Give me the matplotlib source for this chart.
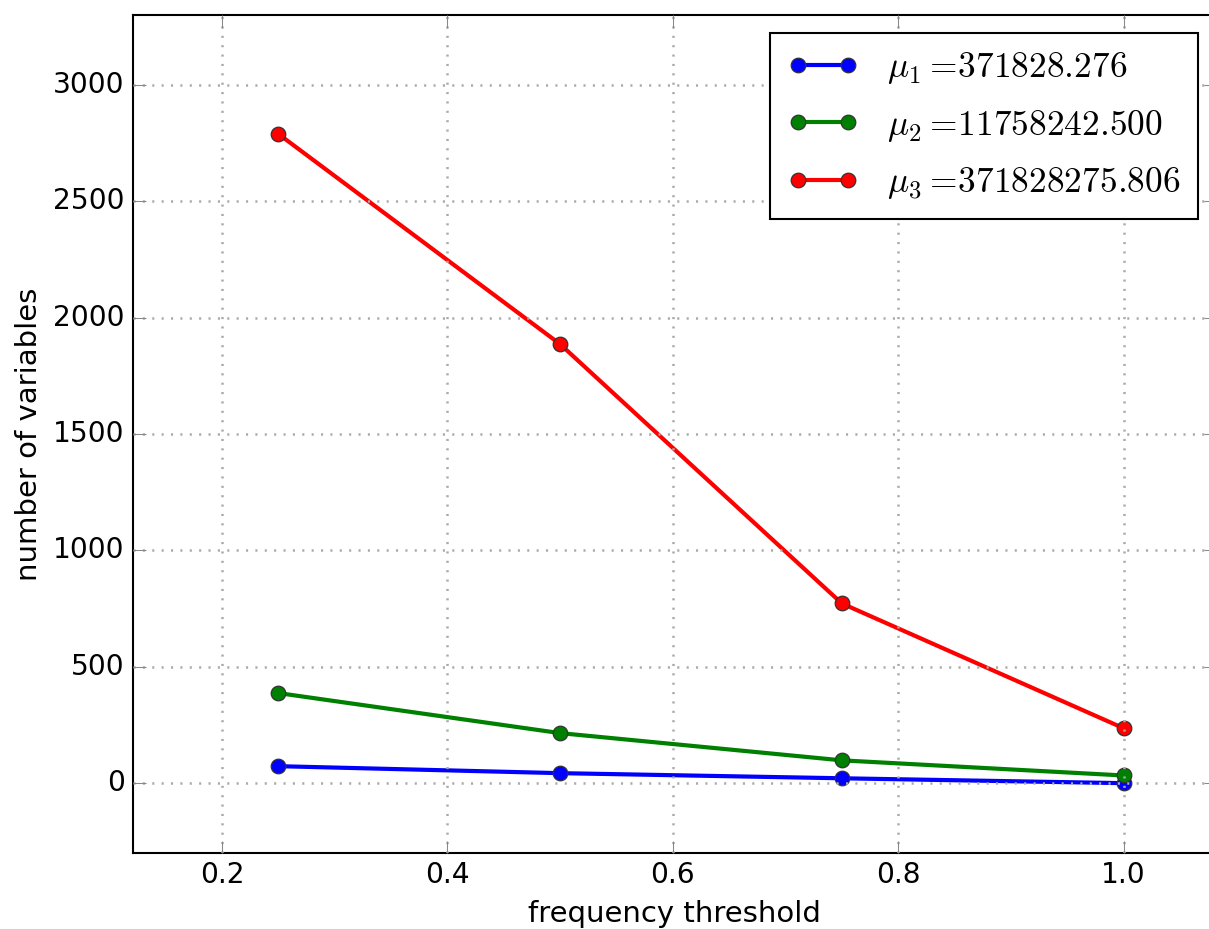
import matplotlib
matplotlib.use("Agg")
import matplotlib.pyplot as plt

thresholds = [0.25, 0.5, 0.75, 1.0]
mu1_vals = [73, 43, 21, 0]
mu2_vals = [387, 215, 98, 33]
mu3_vals = [2789, 1886, 772, 236]
labels = [r'$\mu_1 =\!371828.276$', r'$\mu_2 =\!11758242.500$', r'$\mu_3 =\!371828275.806$']
colors = ['blue', 'green', 'red']

plt.style.use('classic')
plt.rcParams['mathtext.fontset'] = 'cm'
plt.rcParams['font.family'] = ['DejaVu Sans']

fig = plt.figure(figsize=(1209/150, 929/150), dpi=150, facecolor='white')
ax = fig.add_axes([133/1209, 1-853/929, (1216-133)/1209, (853-15)/929])
ax.set_facecolor('white')

for vals, lab, c in zip([mu1_vals, mu2_vals, mu3_vals], labels, colors):
    ax.plot(thresholds, vals, '-o', color=c, label=lab, linewidth=2, markersize=7,
            markeredgecolor='#333333', markeredgewidth=0.6)

ax.set_xlim(0.121, 1.082)
ax.set_ylim(-300, 3300)
ax.set_xticks([0.2, 0.4, 0.6, 0.8, 1.0])
ax.set_yticks([0, 500, 1000, 1500, 2000, 2500, 3000])
ax.tick_params(labelsize=13.5, direction='in', color='#888888', length=6)
ax.grid(True, color='#aaaaaa', linestyle=(0, (1, 3.5)), linewidth=1.2)
ax.set_xlabel('frequency threshold', fontsize=14)
ax.set_ylabel('number of variables', fontsize=14)
leg = ax.legend(loc='upper right', fontsize=17, numpoints=2, handlelength=2.0,
                handletextpad=0.8, borderpad=0.5, labelspacing=0.6,
                borderaxespad=0.5, fancybox=False, framealpha=1)
leg.get_frame().set_edgecolor('black')

fig.savefig('out.png', dpi=150, facecolor='white')
